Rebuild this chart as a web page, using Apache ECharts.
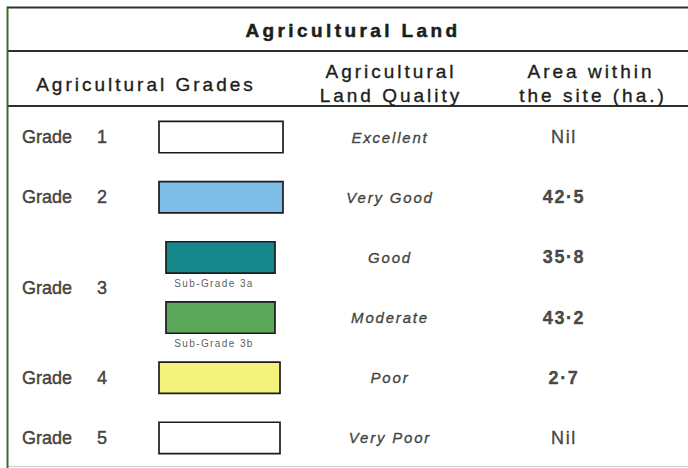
<!DOCTYPE html>
<html><head><meta charset="utf-8">
<script src="https://cdn.jsdelivr.net/npm/echarts@6/dist/echarts.min.js"></script>
<style>html,body{margin:0;padding:0;background:#fff}#chart{width:688px;height:468px}</style>
</head><body><div id="chart"></div>
<script>
// ---------------- data ----------------
const tableTitle = 'Agricultural Land';
const headerGrades = 'Agricultural Grades';
const headerQuality = ['Agricultural', 'Land Quality'];
const headerArea = ['Area within', 'the site (ha.)'];
const grades = ['Grade 1', 'Grade 2', 'Grade 3', 'Grade 4', 'Grade 5'];
const gradeRow = [0, 1, 2.5, 4, 5];
const classes = ['1', '2', '3a', '3b', '4', '5'];
const subGradeLabels = ['', '', 'Sub-Grade 3a', 'Sub-Grade 3b', '', ''];
const qualities = ['Excellent', 'Very Good', 'Good', 'Moderate', 'Poor', 'Very Poor'];
const areaHa = [null, 42.5, 35.8, 43.2, 2.7, null];

// ---------------- styles / layout ----------------
const classColors = ['#ffffff', '#7ebde6', '#15878b', '#5ca659', '#f2f27c', '#ffffff'];
const boxSpan = [[159, 283], [159, 283], [166, 275], [166, 275], [159, 280], [159, 280]];
const X_GRADE = 22, X_SWATCH = 221, X_SUB = 214, X_QUAL = 390, X_AREA = 564;
const FONT = "'Liberation Sans', Arial, Helvetica, sans-serif";
const INK = '#1c1e1a';
const RULE = '#2c3227';

function fmtArea(v) { return v == null ? 'Nil' : v.toFixed(1).replace('.', '\u00B7'); }

function hdr(text, x, y) {
  return { type: 'text', x: x, y: y, silent: true,
    style: { text: text, align: 'center', verticalAlign: 'middle', fontFamily: FONT, fontSize: 19,
      fill: INK, stroke: INK, lineWidth: 0.35 } };
}

const option = {
  animation: false,
  backgroundColor: '#ffffff',
  grid: { left: 0, right: 0, top: 107, height: 364, containLabel: false },
  xAxis: { type: 'value', min: 0, max: 688, show: false },
  yAxis: { type: 'value', inverse: true, min: -0.5, max: 5.5, show: false },
  graphic: [
    { type: 'line', shape: { x1: 7, y1: 7.5, x2: 688, y2: 7.5 }, style: { stroke: RULE, lineWidth: 2 }, silent: true },
    { type: 'line', shape: { x1: 7, y1: 51, x2: 688, y2: 51 }, style: { stroke: RULE, lineWidth: 2 }, silent: true },
    { type: 'line', shape: { x1: 7, y1: 106, x2: 688, y2: 106 }, style: { stroke: RULE, lineWidth: 2 }, silent: true },
    { type: 'line', shape: { x1: 7, y1: 466.5, x2: 688, y2: 466.5 }, style: { stroke: '#c8ccc4', lineWidth: 1 }, silent: true },
    { type: 'line', shape: { x1: 7.5, y1: 6.5, x2: 7.5, y2: 468 }, style: { stroke: '#3d6a30', lineWidth: 2 }, silent: true },
    { type: 'text', x: 353, y: 30, silent: true,
      style: { text: tableTitle, align: 'center', verticalAlign: 'middle', fontFamily: FONT, fontSize: 19,
        fontWeight: 'bold', fill: INK, stroke: INK, lineWidth: 0.5 } },
    hdr(headerGrades, 146, 84),
    hdr(headerQuality[0], 391, 71),
    hdr(headerQuality[1], 391, 95),
    hdr(headerArea[0], 591, 71),
    hdr(headerArea[1], 593, 95)
  ],
  series: [
    {
      name: 'Grade swatches', type: 'custom', silent: true,
      encode: { x: 0, y: 1 },
      data: classes.map((c, i) => [X_SWATCH, i, c]),
      renderItem: function (params, api) {
        const i = api.value(1);
        const span = boxSpan[i];
        const p0 = api.coord([span[0], i]);
        const p1 = api.coord([span[1], i]);
        const h = api.size([0, 1])[1] * 0.52;
        return {
          type: 'rect',
          shape: { x: p0[0], y: p0[1] - h / 2, width: p1[0] - p0[0], height: h },
          style: { fill: classColors[i], stroke: '#1c1c1c', lineWidth: 1.7 }
        };
      }
    },
    {
      name: 'Grades', type: 'scatter', symbolSize: 0, silent: true,
      data: grades.map((g, i) => ({ name: g, value: [X_GRADE, gradeRow[i]] })),
      label: { show: true, position: 'right', distance: 0, formatter: p => p.name,
        fontFamily: FONT, fontSize: 18, color: INK, textBorderColor: INK, textBorderWidth: 0.5 }
    },
    {
      name: 'Sub-grades', type: 'scatter', symbolSize: 0, silent: true,
      data: subGradeLabels.map((s, i) => ({ name: s, value: [X_SUB, i] })).filter(d => d.name),
      label: { show: true, position: 'inside', offset: [0, 26], formatter: p => p.name,
        fontFamily: FONT, fontSize: 10, color: '#2e2e2e' }
    },
    {
      name: 'Agricultural Land Quality', type: 'scatter', symbolSize: 0, silent: true,
      data: qualities.map((q, i) => ({ name: q, value: [X_QUAL, i] })),
      label: { show: true, position: 'inside', formatter: p => p.name,
        fontFamily: FONT, fontSize: 15, fontStyle: 'italic', color: INK, textBorderColor: INK, textBorderWidth: 0.4 }
    },
    {
      name: 'Area within the site (ha.)', type: 'scatter', symbolSize: 0, silent: true,
      data: areaHa.map((v, i) => ({ name: fmtArea(v), value: [X_AREA, i],
        label: { fontWeight: v == null ? 'normal' : 'bold' } })),
      label: { show: true, position: 'inside', formatter: p => p.name,
        fontFamily: FONT, fontSize: 18, color: INK, textBorderColor: INK, textBorderWidth: 0.4 }
    }
  ]
};

const chart = echarts.init(document.getElementById('chart'), null, { renderer: 'svg' });
chart.setOption(option);

const wideText = [tableTitle, headerGrades].concat(headerQuality, headerArea);
function tuneSpacing() {
  document.querySelectorAll('#chart svg text').forEach(t => {
    const s = t.textContent.trim();
    let ls = null, ws = null;
    if (s === tableTitle) ls = '3.4px';
    else if (wideText.indexOf(s) >= 0) ls = '3px';
    else if (qualities.indexOf(s) >= 0) ls = '1.8px';
    else if (/^Grade \d$/.test(s)) ws = '20px';
    else if (s.indexOf('Sub-Grade') === 0) ls = '1.4px';
    else ls = '1.6px';
    if (ls) t.style.letterSpacing = ls;
    if (ws) t.style.wordSpacing = ws;
  });
}
tuneSpacing();
chart.on('finished', tuneSpacing);
</script>
</body></html>
